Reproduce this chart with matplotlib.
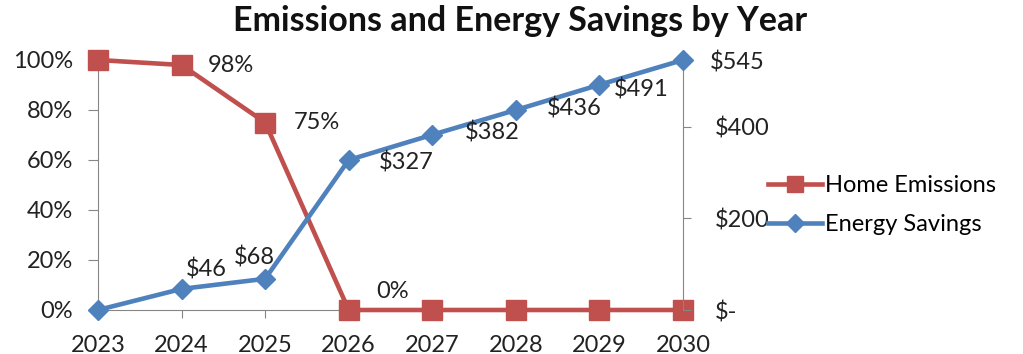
import matplotlib
matplotlib.use("Agg")
import matplotlib.pyplot as plt
from matplotlib.lines import Line2D

plt.rcParams['font.family'] = ['Lato', 'DejaVu Sans']

years = [2023, 2024, 2025, 2026, 2027, 2028, 2029, 2030]
emissions = [1.00, 0.98, 0.75, 0.0, 0.0, 0.0, 0.0, 0.0]
savings = [0, 46, 68, 327, 382, 436, 491, 545]

# which points get a data label, and where (offset in pixels)
emis_labels = {1: (49, 0), 2: (52, 0), 3: (44, 18)}
save_labels = {1: (25, 19), 2: (-11, 21), 3: (58, -3), 4: (60, 2),
               5: (58, 2), 6: (42, -5), 7: (54, -3)}

red = '#C0504D'
blue = '#4F81BD'
gray = '#868686'
fs = 17

fig = plt.figure(figsize=(10.23, 3.54), dpi=100)
ax = fig.add_axes([98/1023, 1-310/354, (683-98)/1023, 250/354])
ax2 = ax.twinx()

ax.plot(years, emissions, color=red, lw=3.3, marker='s', ms=14, clip_on=False, zorder=3)
ax2.plot(years, savings, color=blue, lw=3.3, marker='D', ms=10, clip_on=False, zorder=3)

for i, (dx, dy) in emis_labels.items():
    ax.annotate(f"{emissions[i]*100:.0f}%", (years[i], emissions[i]), xytext=(dx, dy),
                textcoords='offset pixels', ha='center', va='center', fontsize=fs,
                color='#222222')
for i, (dx, dy) in save_labels.items():
    ax2.annotate(f"${savings[i]}", (years[i], savings[i]), xytext=(dx, dy),
                 textcoords='offset pixels', ha='center', va='center', fontsize=fs,
                 color='#222222')

ax.set_xlim(2023, 2030)
ax.set_ylim(0, 1)
ax2.set_ylim(0, 545)
ax.set_xticks(years)
ax.set_yticks([0, 0.2, 0.4, 0.6, 0.8, 1.0])
ax.set_yticklabels(['0%', '20%', '40%', '60%', '80%', '100%'])
ax2.set_yticks([0, 200, 400])
ax2.set_yticklabels(['$-', '$200', '$400'])

for a in (ax, ax2):
    a.spines['top'].set_visible(False)
    for s in ('left', 'right', 'bottom'):
        a.spines[s].set_color(gray)
    a.patch.set_visible(False)
ax.spines['right'].set_visible(False)
ax2.spines['left'].set_visible(False)
ax2.spines['bottom'].set_visible(False)

ax.tick_params(axis='y', length=7, pad=11, color=gray, labelsize=fs, labelcolor='#222222')
ax.tick_params(axis='x', length=6, pad=12, color=gray, labelsize=fs, labelcolor='#222222')
ax2.tick_params(axis='y', length=6, pad=17, color=gray, labelsize=fs, labelcolor='#222222')

fig.text(0.508, 0.94, "Emissions and Energy Savings by Year", ha='center', va='center',
         fontsize=24.5, fontweight='bold', color='#111111')

handles = [Line2D([], [], color=red, lw=3.3, marker='s', ms=12),
           Line2D([], [], color=blue, lw=3.3, marker='D', ms=9)]
fig.legend(handles, ['Home Emissions', 'Energy Savings'], loc='center left',
           bbox_to_anchor=(768/1023, 1-205/354), frameon=False, fontsize=fs,
           handlelength=2.3, handletextpad=0.1, labelspacing=0.75, borderpad=0,
           borderaxespad=0)

fig.savefig("out.png", dpi=100)
